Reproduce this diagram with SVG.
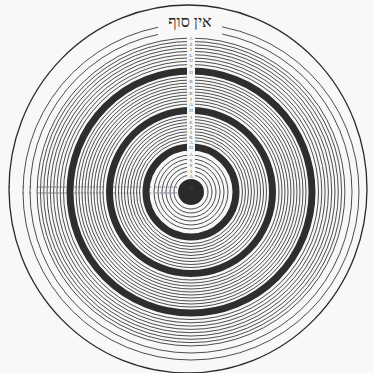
<svg xmlns="http://www.w3.org/2000/svg" width="374" height="373" viewBox="0 0 374 373">
<style>
.thin{fill:none;stroke:#3a3a3a;stroke-width:0.9}
.band{fill:none;stroke:#2e2e2e;stroke-width:7}
.outer{fill:none;stroke:#2a2a2a;stroke-width:1.3}
.lbl{font-family:"Liberation Serif","DejaVu Serif",serif;font-size:4.5px;fill:#555}
.col{font-family:"Liberation Serif","DejaVu Serif",serif;font-size:5px;fill:#555;text-anchor:middle}
.title{font-family:"Liberation Serif","DejaVu Serif",serif;font-size:16px;fill:#222;text-anchor:middle}
</style>
<defs>
<mask id="gaps" maskUnits="userSpaceOnUse" x="0" y="0" width="374" height="373">
<rect x="0" y="0" width="374" height="373" fill="#fff"/>
<rect x="187" y="30" width="8" height="150" fill="#000"/>
<rect x="158" y="10" width="64" height="26" fill="#000"/>
</mask>
</defs>
<rect x="0" y="0" width="374" height="373" fill="#f8f8f8"/>
<g id="outer-circle">
<ellipse class="outer" cx="188" cy="189" rx="179" ry="184"/>
</g>
<g id="rings" mask="url(#gaps)">
<g id="inner-rings">
<circle class="thin" cx="191" cy="192" r="17"/>
<circle class="thin" cx="191" cy="192" r="21"/>
<circle class="thin" cx="191" cy="192" r="25"/>
<circle class="thin" cx="191" cy="192" r="29"/>
<circle class="thin" cx="191" cy="192" r="33"/>
<circle class="thin" cx="191" cy="192" r="37"/>
</g>
<circle id="band-assiah" class="band" cx="191" cy="192" r="45"/>
<g id="middle-rings">
<circle class="thin" cx="191" cy="192" r="51.5"/>
<circle class="thin" cx="191" cy="192" r="54.5"/>
<circle class="thin" cx="191" cy="192" r="57.5"/>
<circle class="thin" cx="191" cy="192" r="60.5"/>
<circle class="thin" cx="191" cy="192" r="63.5"/>
<circle class="thin" cx="191" cy="192" r="66.5"/>
<circle class="thin" cx="191" cy="192" r="69.5"/>
<circle class="thin" cx="191" cy="192" r="72.5"/>
<circle class="thin" cx="191" cy="192" r="75.5"/>
</g>
<circle id="band-yezirah" class="band" cx="191" cy="192" r="81.5"/>
<g id="upper-rings">
<circle class="thin" cx="191" cy="192" r="88"/>
<circle class="thin" cx="191" cy="192" r="91"/>
<circle class="thin" cx="191" cy="192" r="94"/>
<circle class="thin" cx="191" cy="192" r="97"/>
<circle class="thin" cx="191" cy="192" r="100"/>
<circle class="thin" cx="191" cy="192" r="103"/>
<circle class="thin" cx="191" cy="192" r="106"/>
<circle class="thin" cx="191" cy="192" r="109"/>
<circle class="thin" cx="191" cy="192" r="112"/>
<circle class="thin" cx="191" cy="192" r="115"/>
</g>
<circle id="band-beriah" class="band" cx="191" cy="192" r="121"/>
<g id="outer-rings">
<circle class="thin" cx="191" cy="192" r="127.5"/>
<circle class="thin" cx="191" cy="192" r="130.8"/>
<circle class="thin" cx="191" cy="192" r="134.1"/>
<circle class="thin" cx="191" cy="192" r="137.4"/>
<circle class="thin" cx="191" cy="192" r="140.7"/>
<circle class="thin" cx="191" cy="192" r="144"/>
<circle class="thin" cx="191" cy="192" r="147.3"/>
<circle class="thin" cx="191" cy="192" r="150.6"/>
<circle class="thin" cx="191" cy="192" r="153.9"/>
<circle class="thin" cx="191" cy="192" r="161"/>
<circle class="thin" cx="191" cy="192" r="168"/>
</g>
</g>
<g id="center-disc">
<circle cx="191" cy="192" r="13" fill="#2a2a2a"/>
</g>
<g id="title">
<text class="title" x="190" y="27">אין סוף</text>
</g>
<g id="column-labels">
<text class="col" x="191" y="40">A</text>
<text class="col" x="191" y="45.5">Z</text>
<text class="col" x="191" y="51">I</text>
<text class="col" x="191" y="56.5">L</text>
<text class="col" x="191" y="62">U</text>
<text class="col" x="191" y="67.5">T</text>
<text class="col" x="191" y="74">H</text>
<text class="col" x="191" y="83">B</text>
<text class="col" x="191" y="89">E</text>
<text class="col" x="191" y="95">R</text>
<text class="col" x="191" y="101">I</text>
<text class="col" x="191" y="106">A</text>
<text class="col" x="191" y="112">H</text>
<text class="col" x="191" y="119">I</text>
<text class="col" x="191" y="124">E</text>
<text class="col" x="191" y="129">Z</text>
<text class="col" x="191" y="134">I</text>
<text class="col" x="191" y="139">R</text>
<text class="col" x="191" y="144">A</text>
<text class="col" x="191" y="149">H</text>
<text class="col" x="191" y="156">A</text>
<text class="col" x="191" y="161.5">S</text>
<text class="col" x="191" y="167">S</text>
<text class="col" x="191" y="172.5">I</text>
<text class="col" x="191" y="178">A</text>
<text class="col" x="191" y="189" fill="#bbb">H</text>
</g>
<g id="row-labels">
<text class="lbl" x="8 22 29 37.5 40.8 44.1 47.4 50.7 54 57.3 60.6 63.9 74 77.5 80.5 83.5 86.5 89.5 92.5 95.5 98.5 101.5 113 117.5 120.5 123.5 126.5 129.5 132.5 135.5 138.5 149 155 159 163 167 171 175" y="187.5">xxxxxxxxxxxxxxxxxxxxxxxxxxxxxxxxxxxxxx</text>
<text class="lbl" x="8 22 29 37.5 40.8 44.1 47.4 50.7 54 57.3 60.6 63.9 74 77.5 80.5 83.5 86.5 89.5 92.5 95.5 98.5 101.5 113 117.5 120.5 123.5 126.5 129.5 132.5 135.5 138.5 149 155 159 163 167 171 175" y="194">xxxxxxxxxxxxxxxxxxxxxxxxxxxxxxxxxxxxxx</text>
</g>
</svg>
